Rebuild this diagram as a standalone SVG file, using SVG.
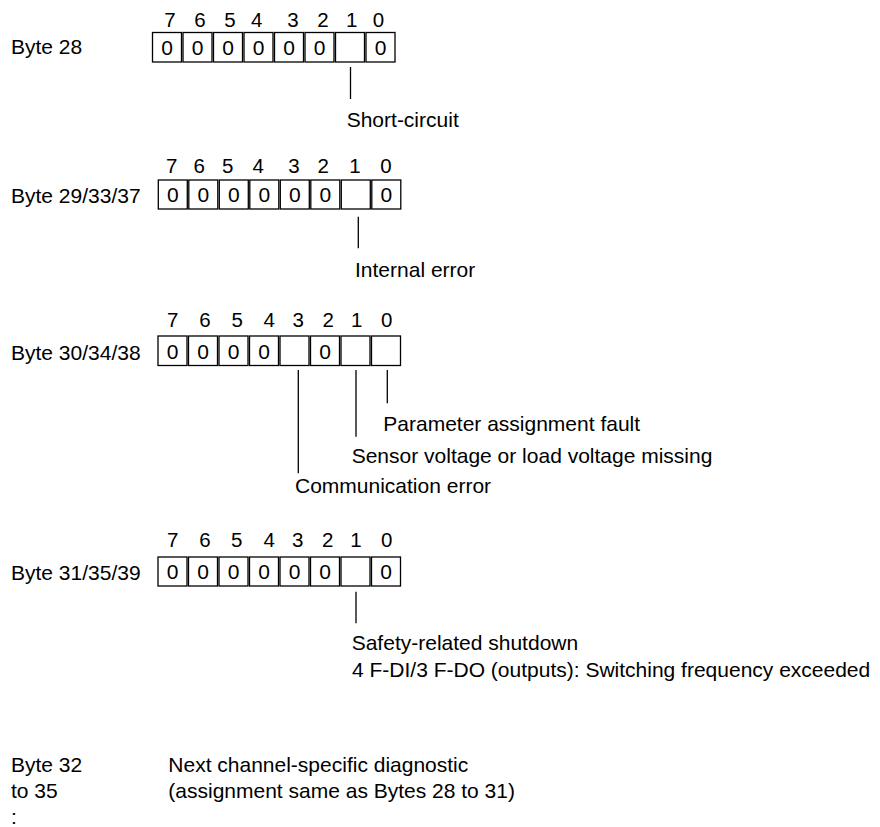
<svg xmlns="http://www.w3.org/2000/svg" width="880" height="827" viewBox="0 0 880 827">
<style>
text{font-family:"Liberation Sans",Arial,sans-serif;fill:#000}
.lbl{font-size:21px}
.hd{font-size:20.5px;text-anchor:middle}
.z{font-size:21px;text-anchor:middle}
.cell{fill:#fff;stroke:#000;stroke-width:1.3}
.con line{stroke:#000;stroke-width:1.3}
</style>
<rect width="880" height="827" fill="#fff"/>
<g id="byte28">
<text class="lbl" x="11" y="54">Byte 28</text>
<text class="hd" x="170" y="26.5">7</text><text class="hd" x="200" y="26.5">6</text><text class="hd" x="230" y="26.5">5</text><text class="hd" x="256.7" y="26.5">4</text><text class="hd" x="293" y="26.5">3</text><text class="hd" x="323" y="26.5">2</text><text class="hd" x="351.7" y="26.5">1</text><text class="hd" x="378.5" y="26.5">0</text>
<rect class="cell" x="152.5" y="32.5" width="29" height="29.5"/><rect class="cell" x="183" y="32.5" width="29" height="29.5"/><rect class="cell" x="213.5" y="32.5" width="29" height="29.5"/><rect class="cell" x="244" y="32.5" width="29" height="29.5"/><rect class="cell" x="274.5" y="32.5" width="29" height="29.5"/><rect class="cell" x="305" y="32.5" width="29" height="29.5"/><rect class="cell" x="335.5" y="32.5" width="29" height="29.5"/><rect class="cell" x="366" y="32.5" width="29" height="29.5"/>
<text class="z" x="167" y="55">0</text><text class="z" x="197.5" y="55">0</text><text class="z" x="228" y="55">0</text><text class="z" x="258.5" y="55">0</text><text class="z" x="289" y="55">0</text><text class="z" x="319.5" y="55">0</text><text class="z" x="380.5" y="55">0</text>
<text class="lbl" x="346.7" y="127">Short-circuit</text>
</g>
<g id="byte29">
<text class="lbl" x="11" y="203">Byte 29/33/37</text>
<text class="hd" x="171.7" y="172.5">7</text><text class="hd" x="199.3" y="172.5">6</text><text class="hd" x="227.7" y="172.5">5</text><text class="hd" x="258.3" y="172.5">4</text><text class="hd" x="294" y="172.5">3</text><text class="hd" x="323.3" y="172.5">2</text><text class="hd" x="355" y="172.5">1</text><text class="hd" x="386" y="172.5">0</text>
<rect class="cell" x="158.3" y="180" width="29" height="29"/><rect class="cell" x="188.8" y="180" width="29" height="29"/><rect class="cell" x="219.3" y="180" width="29" height="29"/><rect class="cell" x="249.8" y="180" width="29" height="29"/><rect class="cell" x="280.3" y="180" width="29" height="29"/><rect class="cell" x="310.8" y="180" width="29" height="29"/><rect class="cell" x="341.3" y="180" width="29" height="29"/><rect class="cell" x="371.8" y="180" width="29" height="29"/>
<text class="z" x="172.8" y="202">0</text><text class="z" x="203.3" y="202">0</text><text class="z" x="233.8" y="202">0</text><text class="z" x="264.3" y="202">0</text><text class="z" x="294.8" y="202">0</text><text class="z" x="325.3" y="202">0</text><text class="z" x="386.3" y="202">0</text>
<text class="lbl" x="355" y="277">Internal error</text>
</g>
<g id="byte30">
<text class="lbl" x="11" y="360">Byte 30/34/38</text>
<text class="hd" x="172.7" y="326.7">7</text><text class="hd" x="205" y="326.7">6</text><text class="hd" x="237.3" y="326.7">5</text><text class="hd" x="269.3" y="326.7">4</text><text class="hd" x="298.3" y="326.7">3</text><text class="hd" x="328.3" y="326.7">2</text><text class="hd" x="356.7" y="326.7">1</text><text class="hd" x="386.7" y="326.7">0</text>
<rect class="cell" x="158" y="336" width="29" height="29.5"/><rect class="cell" x="188.5" y="336" width="29" height="29.5"/><rect class="cell" x="219" y="336" width="29" height="29.5"/><rect class="cell" x="249.5" y="336" width="29" height="29.5"/><rect class="cell" x="280" y="336" width="29" height="29.5"/><rect class="cell" x="310.5" y="336" width="29" height="29.5"/><rect class="cell" x="341" y="336" width="29" height="29.5"/><rect class="cell" x="371.5" y="336" width="29" height="29.5"/>
<text class="z" x="172.5" y="358.5">0</text><text class="z" x="203" y="358.5">0</text><text class="z" x="233.5" y="358.5">0</text><text class="z" x="264" y="358.5">0</text><text class="z" x="325" y="358.5">0</text>
<text class="lbl" x="383.3" y="431">Parameter assignment fault</text>
<text class="lbl" x="351.7" y="463">Sensor voltage or load voltage missing</text>
<text class="lbl" x="295" y="493">Communication error</text>
</g>
<g id="byte31">
<text class="lbl" x="11" y="580">Byte 31/35/39</text>
<text class="hd" x="172.7" y="546.7">7</text><text class="hd" x="205" y="546.7">6</text><text class="hd" x="236.7" y="546.7">5</text><text class="hd" x="269.3" y="546.7">4</text><text class="hd" x="297.7" y="546.7">3</text><text class="hd" x="327.7" y="546.7">2</text><text class="hd" x="356" y="546.7">1</text><text class="hd" x="386.7" y="546.7">0</text>
<rect class="cell" x="158" y="557" width="29" height="29"/><rect class="cell" x="188.5" y="557" width="29" height="29"/><rect class="cell" x="219" y="557" width="29" height="29"/><rect class="cell" x="249.5" y="557" width="29" height="29"/><rect class="cell" x="280" y="557" width="29" height="29"/><rect class="cell" x="310.5" y="557" width="29" height="29"/><rect class="cell" x="341" y="557" width="29" height="29"/><rect class="cell" x="371.5" y="557" width="29" height="29"/>
<text class="z" x="172.5" y="579">0</text><text class="z" x="203" y="579">0</text><text class="z" x="233.5" y="579">0</text><text class="z" x="264" y="579">0</text><text class="z" x="294.5" y="579">0</text><text class="z" x="325" y="579">0</text><text class="z" x="386" y="579">0</text>
<text class="lbl" x="351.7" y="650">Safety-related shutdown</text>
<text class="lbl" x="352" y="677">4 F-DI/3 F-DO (outputs): Switching frequency exceeded</text>
</g>
<g id="next">
<text class="lbl" x="11" y="771.7">Byte 32</text>
<text class="lbl" x="11" y="798.3">to 35</text>
<text class="lbl" x="11" y="824">:</text>
<text class="lbl" x="168.3" y="771.7">Next channel-specific diagnostic</text>
<text class="lbl" x="168.3" y="798.3">(assignment same as Bytes 28 to 31)</text>
</g>
<g id="connectors" class="con">
<line x1="350.5" y1="67" x2="350.5" y2="99"/>
<line x1="358.3" y1="216.7" x2="358.3" y2="248.3"/>
<line x1="298.3" y1="370" x2="298.3" y2="473.3"/>
<line x1="356" y1="370" x2="356" y2="436.7"/>
<line x1="387.3" y1="370" x2="387.3" y2="403.3"/>
<line x1="356" y1="591.7" x2="356" y2="623.3"/>
</g>
</svg>
